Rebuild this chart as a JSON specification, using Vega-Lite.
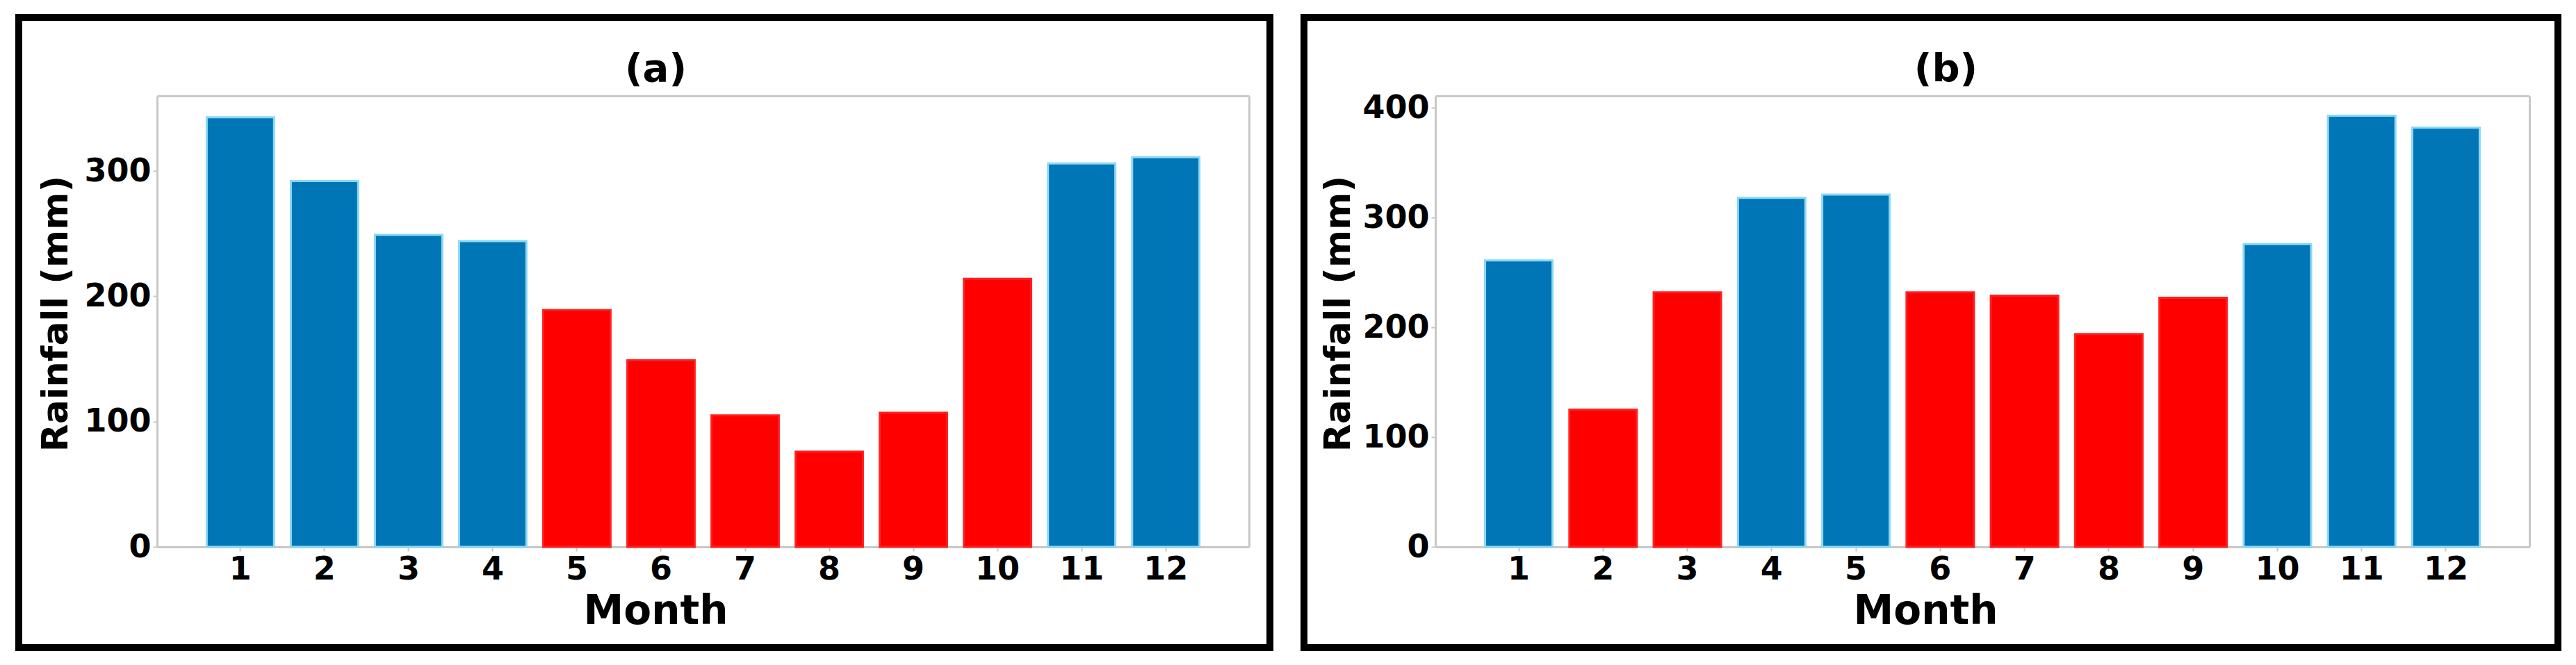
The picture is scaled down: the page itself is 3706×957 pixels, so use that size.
{
  "$schema": "https://vega.github.io/schema/vega-lite/v6.json",
  "background": "white",
  "padding": {"left": 22, "top": 20, "right": 10, "bottom": 10},
  "spacing": 39,
  "datasets": {
    "a": [
      {"month": 1, "rain": 343, "season": "wet"},
      {"month": 2, "rain": 292, "season": "wet"},
      {"month": 3, "rain": 249, "season": "wet"},
      {"month": 4, "rain": 244, "season": "wet"},
      {"month": 5, "rain": 189, "season": "dry"},
      {"month": 6, "rain": 149, "season": "dry"},
      {"month": 7, "rain": 105, "season": "dry"},
      {"month": 8, "rain": 76, "season": "dry"},
      {"month": 9, "rain": 107, "season": "dry"},
      {"month": 10, "rain": 214, "season": "dry"},
      {"month": 11, "rain": 306, "season": "wet"},
      {"month": 12, "rain": 311, "season": "wet"}
    ],
    "b": [
      {"month": 1, "rain": 261, "season": "wet"},
      {"month": 2, "rain": 125, "season": "dry"},
      {"month": 3, "rain": 232, "season": "dry"},
      {"month": 4, "rain": 318, "season": "wet"},
      {"month": 5, "rain": 321, "season": "wet"},
      {"month": 6, "rain": 232, "season": "dry"},
      {"month": 7, "rain": 229, "season": "dry"},
      {"month": 8, "rain": 194, "season": "dry"},
      {"month": 9, "rain": 227, "season": "dry"},
      {"month": 10, "rain": 276, "season": "wet"},
      {"month": 11, "rain": 393, "season": "wet"},
      {"month": 12, "rain": 382, "season": "wet"}
    ]
  },
  "config": {
    "font": "DejaVu Sans",
    "view": {"stroke": "black", "strokeWidth": 10, "fill": "white"},
    "axis": {
      "domainColor": "#c8c8c8",
      "domainWidth": 3,
      "tickColor": "#c8c8c8",
      "tickWidth": 2,
      "tickSize": 6,
      "labelFont": "DejaVu Sans",
      "labelFontWeight": "bold",
      "labelFontSize": 46,
      "labelColor": "black",
      "titleFont": "DejaVu Sans",
      "titleFontWeight": "bold",
      "titleColor": "black",
      "grid": false
    }
  },
  "hconcat": [
    {
      "width": 1800,
      "height": 907,
      "data": {"name": "a"},
      "layer": [
        {
          "mark": {"type": "bar", "strokeWidth": 3},
          "encoding": {
            "x": {
              "field": "month", "type": "ordinal",
              "scale": {"range": [199, 1770], "paddingInner": 0.2, "paddingOuter": 0.59},
              "axis": {"orient": "bottom", "offset": -145, "labelAngle": 0, "labelPadding": 4,
                "title": "Month", "titleFontSize": 58, "titleX": 916, "titleY": 93,
                "titleBaseline": "middle", "titleAlign": "center"}
            },
            "y": {
              "field": "rain", "type": "quantitative",
              "scale": {"domain": [0, 360], "range": [762, 113], "nice": false},
              "axis": {"orient": "left", "offset": -199, "values": [0, 100, 200, 300], "labelPadding": 3,
                "title": "Rainfall (mm)", "titleFontSize": 52, "titleX": -146, "titleY": 426,
                "titleAngle": -90, "titleBaseline": "middle", "titleAlign": "center"}
            },
            "color": {"field": "season", "type": "nominal",
              "scale": {"domain": ["wet", "dry"], "range": ["#0076b6", "#ff0000"]}, "legend": null},
            "stroke": {"field": "season", "type": "nominal",
              "scale": {"domain": ["wet", "dry"], "range": ["#8ad8f5", "#ff2020"]}, "legend": null}
          }
        },
        {
          "mark": {"type": "bar", "opacity": 0},
          "encoding": {
            "x": {"field": "month", "type": "ordinal",
              "axis": {"orient": "top", "offset": -113, "labels": false, "ticks": false,
                "title": "(a)", "titleFontSize": 56, "titleX": 916, "titleY": -39,
                "titleBaseline": "middle", "titleAlign": "center", "titleAngle": 0}},
            "y": {"field": "rain", "type": "quantitative",
              "axis": {"orient": "right", "offset": -30, "labels": false, "ticks": false, "title": null}}
          }
        }
      ],
      "resolve": {"axis": {"x": "independent", "y": "independent"}}
    },
    {
      "width": 1804,
      "height": 907,
      "data": {"name": "b"},
      "layer": [
        {
          "mark": {"type": "bar", "strokeWidth": 3},
          "encoding": {
            "x": {
              "field": "month", "type": "ordinal",
              "scale": {"range": [189, 1763], "paddingInner": 0.2, "paddingOuter": 0.59},
              "axis": {"orient": "bottom", "offset": -145, "labelAngle": 0, "labelPadding": 4,
                "title": "Month", "titleFontSize": 58, "titleX": 894, "titleY": 93,
                "titleBaseline": "middle", "titleAlign": "center"}
            },
            "y": {
              "field": "rain", "type": "quantitative",
              "scale": {"domain": [0, 411], "range": [762, 113], "nice": false},
              "axis": {"orient": "left", "offset": -189, "values": [0, 100, 200, 300, 400], "labelPadding": 3,
                "title": "Rainfall (mm)", "titleFontSize": 52, "titleX": -140, "titleY": 426,
                "titleAngle": -90, "titleBaseline": "middle", "titleAlign": "center"}
            },
            "color": {"field": "season", "type": "nominal",
              "scale": {"domain": ["wet", "dry"], "range": ["#0076b6", "#ff0000"]}, "legend": null},
            "stroke": {"field": "season", "type": "nominal",
              "scale": {"domain": ["wet", "dry"], "range": ["#8ad8f5", "#ff2020"]}, "legend": null}
          }
        },
        {
          "mark": {"type": "bar", "opacity": 0},
          "encoding": {
            "x": {"field": "month", "type": "ordinal",
              "axis": {"orient": "top", "offset": -113, "labels": false, "ticks": false,
                "title": "(b)", "titleFontSize": 56, "titleX": 923, "titleY": -39,
                "titleBaseline": "middle", "titleAlign": "center", "titleAngle": 0}},
            "y": {"field": "rain", "type": "quantitative",
              "axis": {"orient": "right", "offset": -41, "labels": false, "ticks": false, "title": null}}
          }
        }
      ],
      "resolve": {"axis": {"x": "independent", "y": "independent"}}
    }
  ]
}
